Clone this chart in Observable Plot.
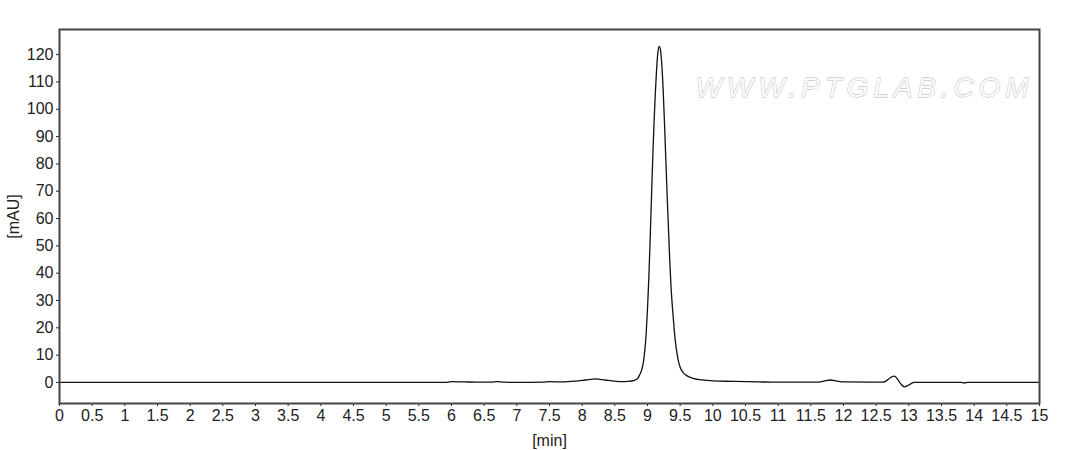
<!DOCTYPE html>
<html>
<head>
<meta charset="utf-8">
<script src="https://cdn.jsdelivr.net/npm/d3@7"></script>
<script src="https://cdn.jsdelivr.net/npm/@observablehq/plot@0.6"></script>
<style>
  html, body { margin: 0; padding: 0; background: #fff; }
  #chart { width: 1073px; height: 450px; }
</style>
</head>
<body>
<div id="chart"></div>
<script>
// Retention time [min]
const times = [
  0, 1, 2, 3, 4, 5, 5.9, 6.0, 6.2, 6.5, 6.6, 6.7, 6.8, 7.0, 7.4, 7.5, 7.7, 7.9, 8.05, 8.2, 8.35, 8.5, 8.6, 8.7,
  8.8, 8.85, 8.88, 8.91, 8.94, 8.96, 8.98, 9.00, 9.02, 9.04, 9.06, 9.08, 9.10, 9.12, 9.14, 9.16, 9.18,
  9.20, 9.22, 9.24, 9.26, 9.28, 9.30, 9.32, 9.34, 9.36, 9.38, 9.40, 9.42, 9.44, 9.46, 9.48, 9.50, 9.52, 9.55,
  9.60, 9.70, 9.80, 10.0, 10.3, 10.7, 11.0, 11.6, 11.7, 11.8, 11.9, 12.0, 12.6, 12.65, 12.72, 12.78,
  12.84, 12.88, 12.93, 12.98, 13.03, 13.08, 13.8, 13.85, 13.9, 14.5, 15
];
// Absorbance [mAU]
const values = [
  0, 0, 0, 0, 0, 0, 0, 0.3, 0.2, 0.1, 0.1, 0.3, 0.1, 0, 0.1, 0.3, 0.2, 0.5, 0.9, 1.3, 0.9, 0.5, 0.3, 0.4,
  0.8, 1.5, 2.8, 4.5, 7.8, 12, 18, 27, 38, 52, 67, 82, 95, 106, 115, 121, 123,
  121.5, 116, 107, 95, 82, 69, 57, 45, 35, 28, 22, 16.5, 12.5, 9.5, 7.2, 5.6, 4.5, 3.5,
  2.5, 1.5, 1.0, 0.6, 0.4, 0.2, 0.1, 0.1, 0.5, 0.9, 0.5, 0.2, 0.1, 0.5, 1.8, 2.3,
  0.8, -0.6, -1.6, -1.2, -0.5, 0, 0, -0.2, 0, 0, 0
];
const xTicks = d3.range(0, 15.01, 0.5);
const yTicks = d3.range(0, 121, 10);
const watermark = ["WWW.PTGLAB.COM"];

const rows = times.map((t, i) => ({t, v: values[i]}));

const chart = Plot.plot({
  width: 1073,
  height: 450,
  marginLeft: 59,
  marginRight: 34,
  marginTop: 29,
  marginBottom: 47,
  style: {fontFamily: "'Liberation Sans', Arial, sans-serif", fontSize: "16px", color: "#222", background: "#fff"},
  x: {domain: [0, 15], ticks: xTicks, tickFormat: d => String(d), tickSize: 3, tickPadding: 3,
      label: "[min]", labelAnchor: "center", labelOffset: 42, labelArrow: "none"},
  y: {domain: [-7.7, 129.2], ticks: yTicks, tickFormat: d => String(d), tickSize: 3, tickPadding: 3,
      label: "[mAU]", labelAnchor: "center", labelOffset: 52, labelArrow: "none"},
  marks: [
    Plot.text(watermark, {text: d => d, frameAnchor: "top-right", dx: -11, dy: 59, textAnchor: "end",
      lineAnchor: "middle", fontSize: 28, fill: "#fafafa", stroke: "#b4b4b4", strokeWidth: 0.8, fontStyle: "italic"}),
    Plot.line(rows, {x: "t", y: "v", stroke: "#111", strokeWidth: 1.3, curve: "monotone-x"}),
    Plot.frame({stroke: "#444", strokeWidth: 2})
  ]
});
document.getElementById("chart").appendChild(chart);
// spread the watermark letters across its width
d3.select(chart).selectAll("text").filter(function() { return this.textContent === "WWW.PTGLAB.COM"; })
  .attr("textLength", 333).attr("lengthAdjust", "spacing");
</script>
</body>
</html>
